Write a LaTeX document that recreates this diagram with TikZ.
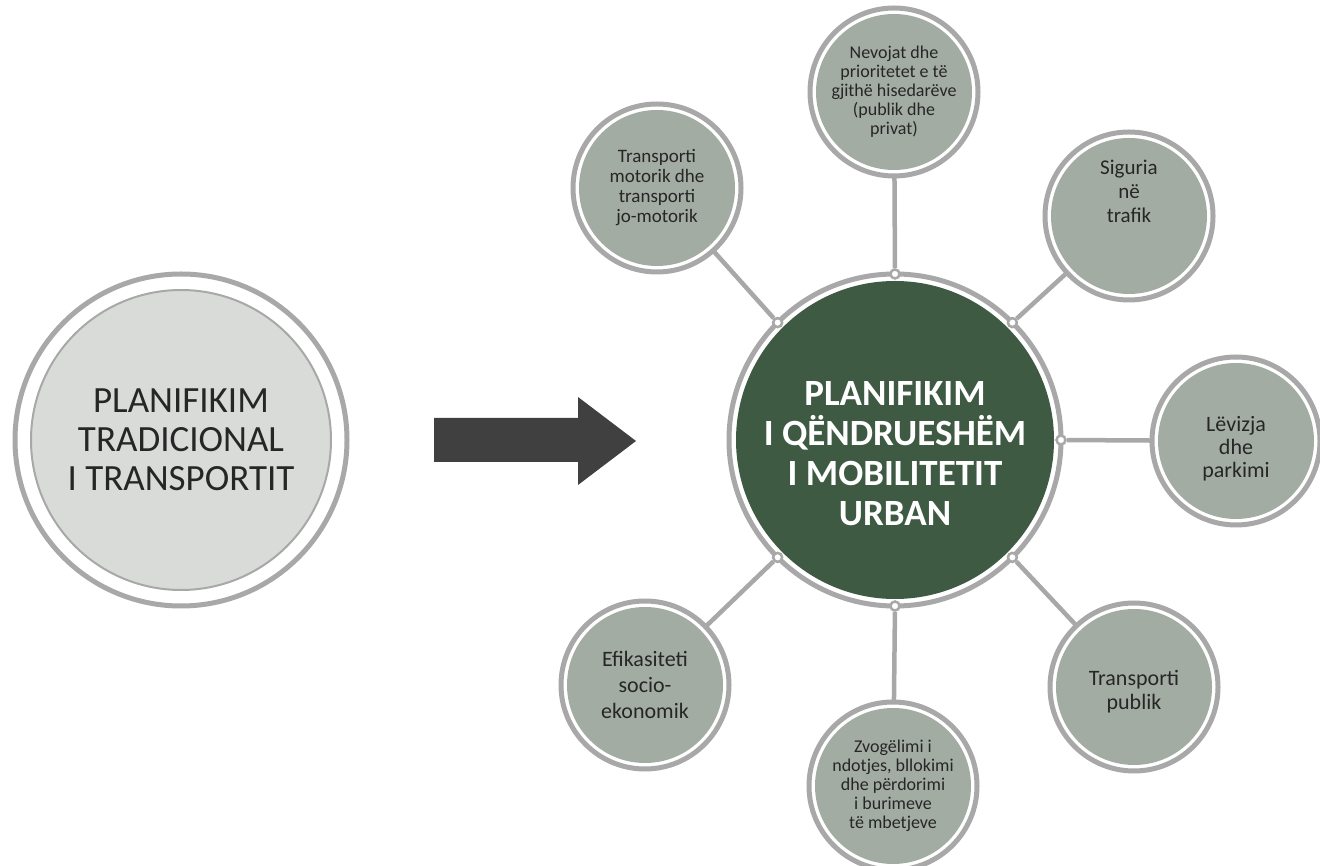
\documentclass[tikz,border=0pt]{standalone}
\usepackage{fontspec}
\setmainfont{Carlito}
\definecolor{ringgray}{RGB}{168,168,168}
\definecolor{sage}{RGB}{163,172,162}
\definecolor{hubgreen}{RGB}{62,90,66}
\definecolor{paleback}{RGB}{217,219,217}
\definecolor{arrowgray}{RGB}{64,64,64}
\definecolor{inkgray}{RGB}{38,38,38}
\tikzset{
  ring/.style={draw=ringgray, line width=5pt},
  sat/.style={circle, fill=sage, minimum size=156pt, inner sep=0pt, outer sep=6pt},
  sattext/.style={align=center, text=inkgray, font=\fontsize{19}{20}\selectfont},
  dot/.style={circle, fill=white, draw=ringgray, line width=2.5pt, minimum size=9pt, inner sep=0pt},
  link/.style={draw=ringgray, line width=4.5pt},
}
\begin{document}
\begin{tikzpicture}[x=1pt,y=1pt]
  \useasboundingbox (0,0) rectangle (1320,865);
  % traditional planning
  \node[circle, fill=paleback, draw=ringgray, line width=2pt, minimum size=300pt, inner sep=0pt,
    align=center, text=inkgray, font=\fontsize{37}{39}\selectfont] (trad) at (181,425)
    {PLANIFIKIM\\TRADICIONAL\\I TRANSPORTIT};
  \draw[ring] (trad.center) circle (166pt);
  % big arrow
  \fill[arrowgray] (434,403) -- (578,403) -- (578,380) -- (636,424)
    -- (578,468) -- (578,447) -- (434,447) -- cycle;
  % hub
  \node[circle, fill=hubgreen, minimum size=318pt, inner sep=0pt] (hub) at (895,425) {};
  \draw[ring] (hub.center) circle (166pt);
  \node[align=center, text=white, font=\bfseries\fontsize{37}{40}\selectfont] (hub-t)
    at ([yshift=-14]hub.center) {PLANIFIKIM\\I QËNDRUESHËM\\I MOBILITETIT\\URBAN};
  % satellites
  \node[sat] (nev) at (894,773) {};
  \node[sat] (mot) at (657,677) {};
  \node[sat] (sig) at (1129,649) {};
  \node[sat] (lev) at (1236,424) {};
  \node[sat] (pub) at (1134,178) {};
  \node[sat] (zvo) at (893,79) {};
  \node[sat] (efi) at (645,180) {};
  \foreach \n in {nev,mot,sig,lev,pub,zvo,efi}
    \draw[ring] (\n.center) circle (84pt);
  % satellite texts
  \node[sattext, font=\fontsize{18}{19}\selectfont] (nev-t) at (nev)
    {Nevojat dhe\\prioritetet e të\\gjithë hisedarëve\\(publik dhe\\privat)};
  \node[sattext] (mot-t) at (mot) {Transporti\\motorik dhe\\transporti\\jo-motorik};
  \node[sattext, font=\fontsize{21}{24}\selectfont] (sig-t) at ([yshift=25]sig.center) {Siguria\\në\\trafik};
  \node[sattext, font=\fontsize{22}{23}\selectfont] (lev-t) at ([yshift=-8]lev.center) {Lëvizja\\dhe\\parkimi};
  \node[sattext, font=\fontsize{22}{24}\selectfont] (pub-t) at ([yshift=-5]pub.center) {Transporti\\publik};
  \node[sattext, font=\fontsize{22}{26}\selectfont] (efi-t) at (efi) {Efikasiteti\\socio-\\ekonomik};
  \node[sattext, font=\fontsize{18}{19}\selectfont] (zvo-t) at (zvo)
    {Zvogëlimi i\\ndotjes, bllokimi\\dhe përdorimi\\i burimeve\\të mbetjeve};
  % dots on the hub ring and links
  \foreach \a in {0,45,90,135,225,270,315}
    \node[dot] (d\a) at ([shift={(\a:166pt)}]hub.center) {};
  \draw[link] (d0) -- (lev);
  \draw[link] (d45) -- (sig);
  \draw[link] (d90) -- (nev);
  \draw[link] (d135) -- (mot);
  \draw[link] (d225) -- (efi);
  \draw[link] (d270) -- (zvo);
  \draw[link] (d315) -- (pub);
\end{tikzpicture}
\end{document}
